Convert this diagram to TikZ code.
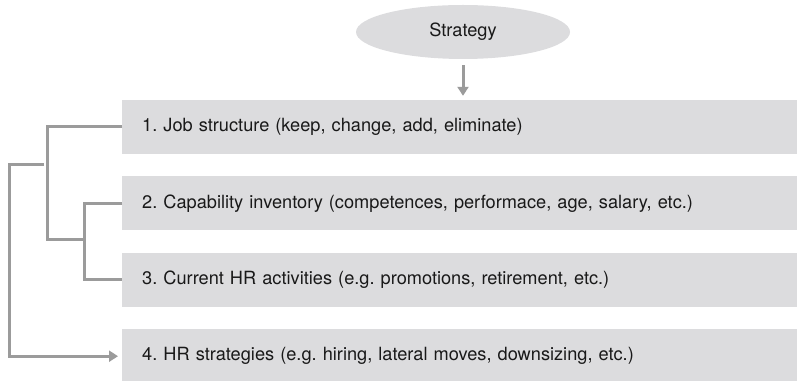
\documentclass[tikz,border=0pt]{standalone}
\usepackage{fontspec}
\setmainfont{TeX Gyre Heros}
\usetikzlibrary{shapes,arrows.meta,positioning}
\definecolor{boxgray}{HTML}{DCDCDE}
\definecolor{linegray}{HTML}{9B9B9B}
\frenchspacing

\begin{document}
\begin{tikzpicture}[x=1pt,y=1pt,node distance=22pt,
    every node/.style={font=\fontsize{18.2}{21}\selectfont, text=black!90},
    item/.style={fill=boxgray, minimum width=675pt, minimum height=54pt,
      text width=635pt, inner xsep=20pt, align=left},
    link/.style={draw=linegray, line width=3pt},
    flow/.style={link, -{Triangle[width=11pt,length=9pt]}}]
  \useasboundingbox (0,0) rectangle (797,380);

  \node[ellipse, fill=boxgray, minimum width=214pt, minimum height=54pt] (strategy) at (463,348) {Strategy};

  \node[item, anchor=west] (box1) at (122,253) {1. Job structure (keep, change, add, eliminate)};
  \node[item, below=of box1] (box2) {2. Capability inventory (competences, performace, age, salary, etc.)};
  \node[item, below=of box2] (box3) {3. Current HR activities (e.g. promotions, retirement, etc.)};
  \node[item, below=of box3] (box4) {4. HR strategies (e.g. hiring, lateral moves, downsizing, etc.)};

  \draw[flow, shorten <=6pt, shorten >=4pt] (strategy.south) -- (strategy.south |- box1.north);

  % brackets on the left
  \coordinate (j23) at (84,140);
  \coordinate (j1) at (44,215);
  \draw[link] (box2.west) -| (j23) |- (box3.west);
  \draw[link] (box1.west) -- ++(-75,0) coordinate (k1) -- (k1 |- j23) -- (j23);
  \draw[flow, shorten >=4pt] (j1) -- ++(-35,0) |- (box4.west);
\end{tikzpicture}
\end{document}
